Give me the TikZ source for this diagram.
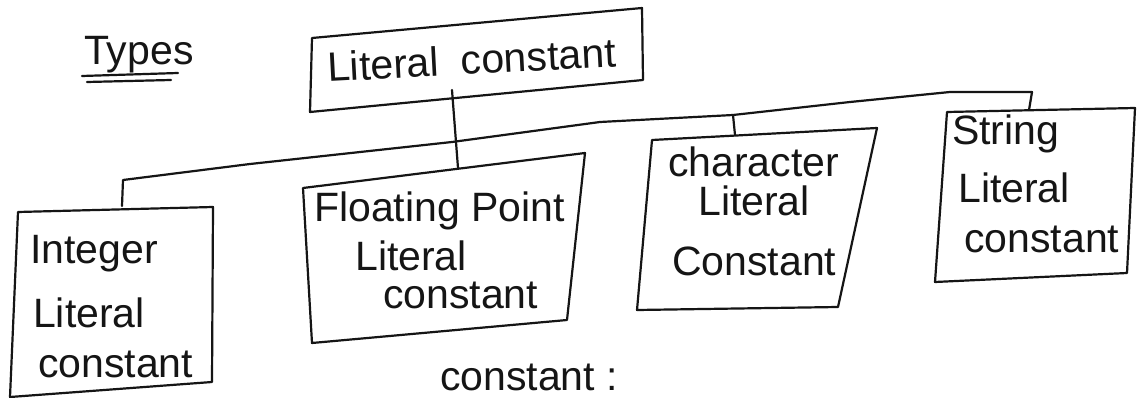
\documentclass[tikz,border=0pt]{standalone}
\usepackage{fontspec}
\setmainfont{Liberation Sans}
\definecolor{ink}{HTML}{151515}
\begin{document}
\begin{tikzpicture}[x=1pt,y=-1pt,
  pen/.style={line width=2.2pt, line cap=round, line join=round, draw=ink},
  label/.style={anchor=base west, inner sep=0pt, text=ink,
                font=\fontsize{41}{46}\selectfont}]
% page
\clip (0,0) rectangle (1145,398);
\fill[white] (0,0) rectangle (1145,398);

% heading
\node[label] (types) at (84,65) {Types};
\draw[pen] (82,76) -- (178,73);
\draw[pen] (87,82) -- (171,80);

% box corners (hand-drawn, slightly skewed)
\coordinate (r1) at (312,38);  \coordinate (r2) at (642,8);
\coordinate (r3) at (643,80);  \coordinate (r4) at (310,112);
\coordinate (i1) at (18,212);  \coordinate (i2) at (213,207);
\coordinate (i3) at (212,382); \coordinate (i4) at (10,397);
\coordinate (f1) at (303,188); \coordinate (f2) at (585,153);
\coordinate (f3) at (567,320); \coordinate (f4) at (312,343);
\coordinate (c1) at (652,140); \coordinate (c2) at (877,128);
\coordinate (c3) at (838,307); \coordinate (c4) at (637,310);
\coordinate (s1) at (947,112); \coordinate (s2) at (1135,108);
\coordinate (s3) at (1127,273); \coordinate (s4) at (935,282);

\draw[pen] (r1) -- (r2) -- (r3) -- (r4) -- cycle;
\draw[pen] (i1) -- (i2) -- (i3) -- (i4) -- cycle;
\draw[pen] (f1) -- (f2) -- (f3) -- (f4) -- cycle;
\draw[pen] (c1) -- (c2) -- (c3) -- (c4) -- cycle;
\draw[pen] (s1) -- (s2) -- (s3) -- (s4) -- cycle;

% labels
\node[label, rotate=3] (root) at (328,82) {Literal\hspace{22pt}constant};

\node[label] (intA) at (30,263) {Integer};
\node[label] (intB) at (33,327) {Literal};
\node[label] (intC) at (38,377) {constant};

\node[label] (fltA) at (314,222) {Floating Point};
\node[label] (fltB) at (355,270) {Literal};
\node[label] (fltC) at (383,308) {constant};

\node[label] (chrA) at (668,177) {character};
\node[label] (chrB) at (698,215) {Literal};
\node[label] (chrC) at (672,275) {Constant};

\node[label] (strA) at (952,145) {String};
\node[label] (strB) at (958,203) {Literal};
\node[label] (strC) at (964,252) {constant};

\node[label] (next) at (440,390) {constant :};

% connectors
\coordinate (stemTop) at (452,90);
\coordinate (fltTop)  at (458,168);
\coordinate (intTop)  at (122,206);
\coordinate (chrJoin) at (733,115);
\coordinate (chrTop)  at (735,135);
\coordinate (strTop)  at (1029,110);

\draw[pen] (stemTop) -- (fltTop);
\draw[pen] (intTop) -- (123,180) -- (250,164) -- (452,142) -- (600,122)
  -- (chrJoin) -- (850,102) -- (950,92) -- (1032,92) -- (strTop);
\draw[pen] (chrJoin) -- (chrTop);
\end{tikzpicture}
\end{document}
